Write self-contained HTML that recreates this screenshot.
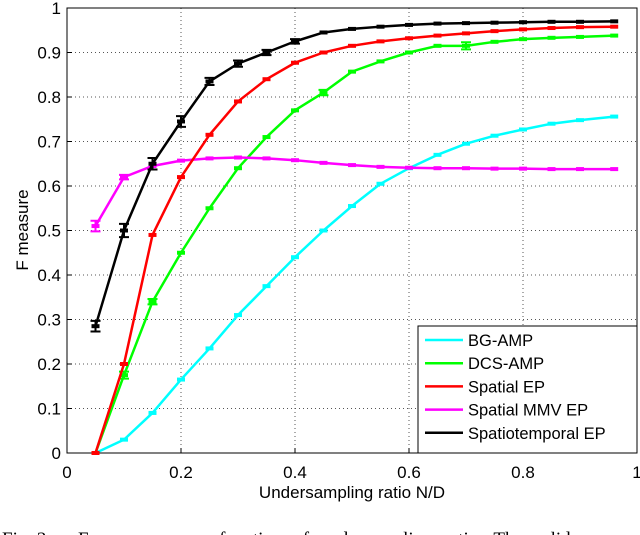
<!DOCTYPE html>
<html><head><meta charset="utf-8"><style>
html,body{margin:0;padding:0;background:#fff;width:640px;height:535px;overflow:hidden}
svg{display:block;font-family:"Liberation Sans",sans-serif}
</style></head><body>
<svg id="chart" width="640" height="535"></svg>
<script>
const xs=[0.05,0.1,0.15,0.2,0.25,0.3,0.35,0.4,0.45,0.5,0.55,0.6,0.65,0.7,0.75,0.8,0.85,0.9,0.96];
const bgAmp=[0,0.03,0.09,0.165,0.235,0.31,0.375,0.44,0.50,0.555,0.605,0.64,0.67,0.695,0.713,0.727,0.74,0.748,0.756];
const dcsAmp=[0,0.175,0.34,0.45,0.55,0.64,0.71,0.77,0.81,0.857,0.88,0.90,0.915,0.915,0.924,0.93,0.933,0.935,0.938];
const spatialEp=[0,0.20,0.49,0.62,0.715,0.79,0.84,0.877,0.90,0.915,0.925,0.932,0.938,0.943,0.948,0.952,0.955,0.957,0.958];
const mmvEp=[0.51,0.62,0.645,0.657,0.662,0.664,0.662,0.658,0.652,0.647,0.643,0.641,0.640,0.640,0.639,0.639,0.638,0.638,0.638];
const stEp=[0.285,0.50,0.65,0.745,0.835,0.875,0.90,0.925,0.945,0.953,0.958,0.962,0.965,0.966,0.967,0.968,0.969,0.969,0.970];
const stErr=[0.012,0.015,0.013,0.012,0.008,0.007,0.006,0.005,0,0,0,0,0,0,0,0,0,0,0];
const dcsErr=[0,0.008,0.006,0,0,0,0,0,0.006,0,0,0,0,0.008,0,0,0,0,0];
const mmvErr=[0.012,0.005,0,0,0,0,0,0,0,0,0,0,0,0,0,0,0,0,0];
const xTicks=[0,0.2,0.4,0.6,0.8,1];
const xTickLabels=["0","0.2","0.4","0.6","0.8","1"];
const yTicks=[0,0.1,0.2,0.3,0.4,0.5,0.6,0.7,0.8,0.9,1];
const yTickLabels=["0","0.1","0.2","0.3","0.4","0.5","0.6","0.7","0.8","0.9","1"];
const legendNames=["BG-AMP","DCS-AMP","Spatial EP","Spatial MMV EP","Spatiotemporal EP"];
const legendColors=["#00ffff","#00ff00","#ff0000","#ff00ff","#000000"];

const L=67,R=637,T=8,B=453;
const sx=v=>L+v*(R-L), sy=v=>B-v*(B-T);
const svg=document.getElementById('chart');
const NS='http://www.w3.org/2000/svg';
function mk(tag,attrs,parent){const e=document.createElementNS(NS,tag);for(const k in attrs)e.setAttribute(k,attrs[k]);(parent||svg).appendChild(e);return e;}

xTicks.forEach((t,i)=>{
  if(i>0&&i<xTicks.length-1){const g=mk('line',{x1:sx(t),x2:sx(t),y1:T,y2:B,stroke:'#555','stroke-width':1,'stroke-dasharray':'1,3'});
  
  }
  const tk=mk('line',{x1:sx(t),x2:sx(t),y1:B,y2:B-5,stroke:'#000'});
  
  
  const lb=mk('text',{x:sx(t),y:478,'font-size':17,'text-anchor':'middle'});
  lb.textContent=xTickLabels[i];
  
  
});
yTicks.forEach((t,i)=>{
  if(i>0&&i<yTicks.length-1){const g=mk('line',{x1:L,x2:R,y1:sy(t),y2:sy(t),stroke:'#555','stroke-width':1,'stroke-dasharray':'1,3'});
  
  }
  const tk=mk('line',{x1:L,x2:L+5,y1:sy(t),y2:sy(t),stroke:'#000'});
  
  
  const lb=mk('text',{x:61,y:sy(t)+6,'font-size':17,'text-anchor':'end'});
  lb.textContent=yTickLabels[i];
  
  
});
const frame=mk('rect',{x:L,y:T,width:R-L,height:B-T,fill:'none',stroke:'#000','stroke-width':1});



function series(vals,color,name,errs){
  const g=mk('g',{});
  
  
  mk('polyline',{points:vals.map((v,i)=>sx(xs[i])+','+sy(v)).join(' '),fill:'none',stroke:color,'stroke-width':2.5,'stroke-linejoin':'round'},g);
  vals.forEach((v,i)=>{
    const m=mk('rect',{x:sx(xs[i])-4,y:sy(v)-2,width:8,height:4,fill:color},g);
    
    
    if(errs&&errs[i]>0){
      const y1=sy(v+errs[i]),y2=sy(v-errs[i]),x=sx(xs[i]);
      const e=mk('path',{d:`M${x},${y1}V${y2}M${x-5},${y1}H${x+5}M${x-5},${y2}H${x+5}`,stroke:color,'stroke-width':2,fill:'none'},g);
      
      
    }
  });
}
series(bgAmp,legendColors[0],'bg-amp-series');
series(dcsAmp,legendColors[1],'dcs-amp-series',dcsErr);
series(mmvEp,legendColors[3],'spatial-mmv-ep-series',mmvErr);
series(spatialEp,legendColors[2],'spatial-ep-series');
series(stEp,legendColors[4],'spatiotemporal-ep-series',stErr);

const lg=mk('g',{});


mk('rect',{x:418,y:326,width:219,height:127,fill:'#fff',stroke:'#000','stroke-width':1},lg);
legendNames.forEach((n,i)=>{
  const y=340+i*23.2;
  const e=mk('g',{},lg);
  
  
  mk('line',{x1:425,x2:463,y1:y,y2:y,stroke:legendColors[i],'stroke-width':2.5},e);
  const t=mk('text',{x:468,y:y+6,'font-size':16.5},e);
  t.textContent=n;
});

const xl=mk('text',{x:352,y:498,'font-size':17,'text-anchor':'middle'});
xl.textContent='Undersampling ratio N/D';


const yl=mk('text',{x:0,y:0,'font-size':17,'text-anchor':'middle',transform:'translate(28,230) rotate(-90)'});
yl.textContent='F measure';


const cap1=mk('text',{x:2,y:545,'font-size':19,'font-family':'Liberation Serif, serif'});
cap1.textContent='Fig. 3.';


const cap=mk('text',{x:78,y:545,'font-size':19,'font-family':'Liberation Serif, serif','word-spacing':'6'});
cap.textContent='F measure as a function of undersampling ratio. The solid';


</script>
</body></html>
